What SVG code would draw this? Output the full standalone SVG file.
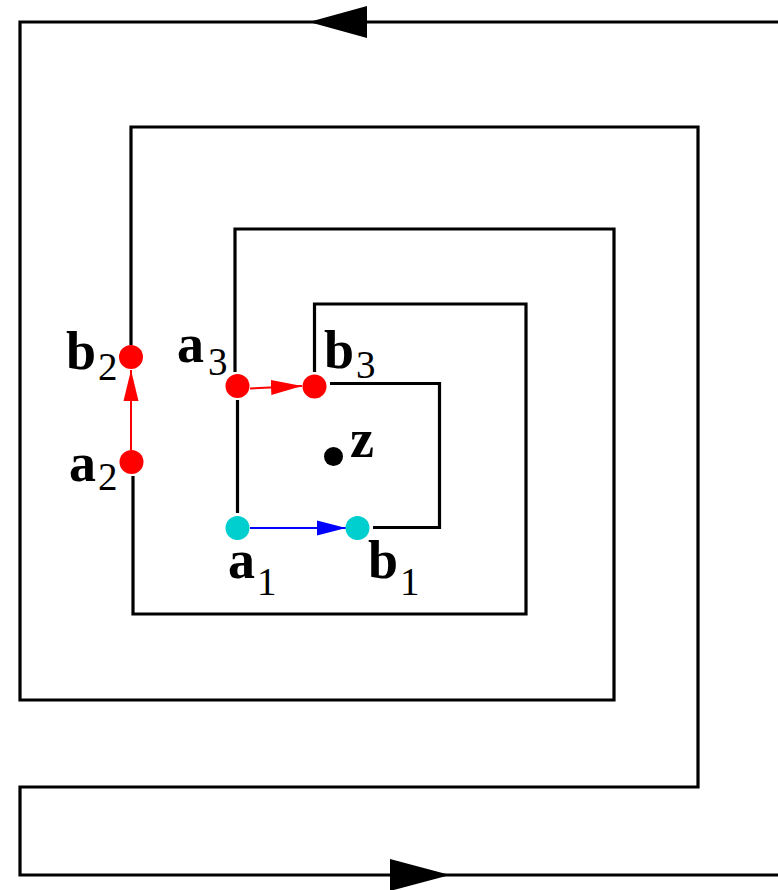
<svg xmlns="http://www.w3.org/2000/svg" width="778" height="890" viewBox="0 0 778 890">
<style>
.sp{fill:none;stroke:#000;stroke-width:3.2;stroke-linejoin:miter;stroke-linecap:butt}
.red{fill:#ff0000}
.cyan{fill:#00cfd0}
.lbl{font-family:"Liberation Serif","Times New Roman",serif;font-weight:bold;font-size:54px;fill:#000}
.sub{font-family:"Liberation Serif","Times New Roman",serif;font-size:39px;fill:#000}
.ra{stroke:#ff0000;stroke-width:2;fill:none}
.ba{stroke:#0000ff;stroke-width:2;fill:none}
</style>
<defs>
<marker id="mr" markerUnits="userSpaceOnUse" markerWidth="31" markerHeight="16" refX="31" refY="8" orient="auto"><path d="M0,0.5 L31,8 L0,15.5 z" fill="#ff0000"/></marker>
<marker id="mb" markerUnits="userSpaceOnUse" markerWidth="29" markerHeight="16" refX="29" refY="8" orient="auto"><path d="M0,0.5 L29,8 L0,15.5 z" fill="#0000ff"/></marker>
</defs>
<rect width="778" height="890" fill="#fff"/>
<g id="connectors">
<path class="sp" d="M778,22 H20 V700 H614 V229 H235 V372"/>
<path class="sp" d="M237.5,400 V513"/>
<path class="sp" d="M373,527.5 H439.5 V383.5 H330"/>
<path class="sp" d="M314.5,372 V304 H526 V614 H133 V476"/>
<path class="sp" d="M131,345 V127 H698 V787 H20 V875 H778"/>
<polygon points="309,22 367,6 367,38" fill="#000"/>
<polygon points="450,875 390,859 390,891" fill="#000"/>
<line class="ra" x1="131" y1="450" x2="131" y2="370" marker-end="url(#mr)"/>
<line class="ra" x1="250" y1="388.5" x2="302" y2="386" marker-end="url(#mr)"/>
<line class="ba" x1="250" y1="528" x2="346" y2="528" marker-end="url(#mb)"/>
</g>
<g id="b2"><circle class="red" cx="131" cy="357" r="12"/><text class="lbl" x="66" y="369">b</text><text class="sub" x="98" y="380">2</text></g>
<g id="a2"><circle class="red" cx="131.5" cy="462" r="12"/><text class="lbl" x="69" y="481">a</text><text class="sub" x="98" y="490">2</text></g>
<g id="a3"><circle class="red" cx="237.5" cy="386" r="12"/><text class="lbl" x="177" y="362">a</text><text class="sub" x="208" y="375">3</text></g>
<g id="b3"><circle class="red" cx="314.5" cy="386.5" r="12"/><text class="lbl" x="324" y="368">b</text><text class="sub" x="356" y="378">3</text></g>
<g id="a1"><circle class="cyan" cx="237.5" cy="528" r="12"/><text class="lbl" x="228" y="578">a</text><text class="sub" x="257" y="595">1</text></g>
<g id="b1"><circle class="cyan" cx="357.5" cy="528" r="12"/><text class="lbl" x="368" y="578">b</text><text class="sub" x="400" y="595">1</text></g>
<g id="z"><circle cx="333.5" cy="456.5" r="9.5" fill="#000"/><text class="lbl" x="350" y="457">z</text></g>
</svg>
